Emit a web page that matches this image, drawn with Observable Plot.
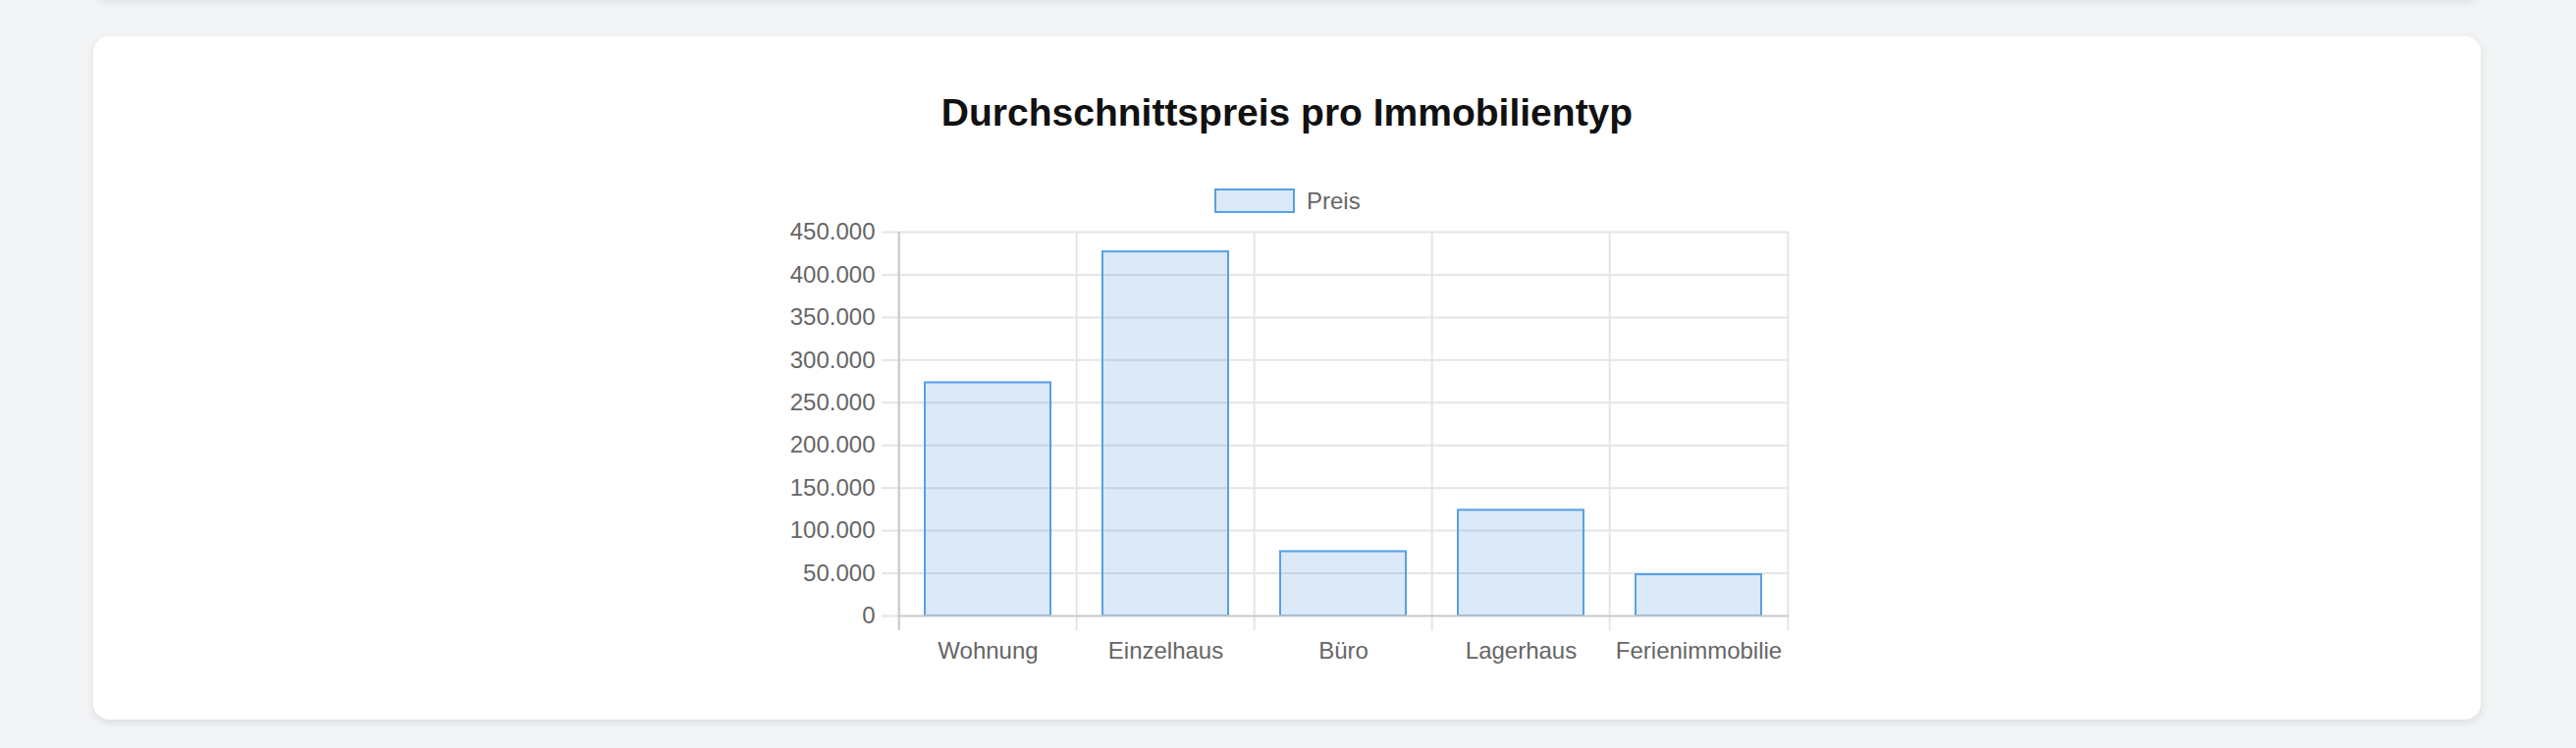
<!DOCTYPE html>
<html>
<head>
<meta charset="utf-8">
<script src="https://cdn.jsdelivr.net/npm/d3@7"></script>
<script src="https://cdn.jsdelivr.net/npm/@observablehq/plot@0.6"></script>
<style>
  html, body { margin: 0; padding: 0; }
  body { width: 2624px; height: 762px; background: #f3f4f6; position: relative; overflow: hidden;
         font-family: "Liberation Sans", Arial, Helvetica, sans-serif; }
  .card { position: absolute; left: 95px; top: 37px; width: 2432px; height: 696px; background: #fff;
          border-radius: 16px; box-shadow: 0 3px 8px rgba(0,0,0,0.10); }
  .cardAbove { position: absolute; left: 95px; top: -200px; width: 2432px; height: 200px; background: #f3f4f6;
          border-radius: 16px; box-shadow: 0 3px 8px rgba(0,0,0,0.08); }
  .title { position: absolute; left: 95px; width: 2432px; top: 95px; text-align: center; font-weight: bold;
           font-size: 39px; line-height: 39px; color: #111; }
  .legend { position: absolute; left: 1237px; top: 192px; height: 25px; display: flex; align-items: center; }
  .legend .box { width: 82px; height: 25px; box-sizing: border-box; border: 2px solid #57a0e5;
                 background: rgba(74,144,226,0.2); }
  .legend .lbl { margin-left: 12px; font-size: 24px; line-height: 24px; color: #666; }
  #chart { position: absolute; left: 797px; top: 224px; }
</style>
</head>
<body>
<div class="cardAbove"></div>
<div class="card"></div>
<div class="title" id="title"></div>
<div class="legend"><div class="box"></div><div class="lbl" id="legendLabel"></div></div>
<div id="chart"></div>
<script>
const chartTitle = "Durchschnittspreis pro Immobilientyp";
const seriesName = "Preis";
const categories = ["Wohnung", "Einzelhaus", "Büro", "Lagerhaus", "Ferienimmobilie"];
const prices = [274500, 428000, 76500, 125000, 49500];
const yTicks = [0, 50000, 100000, 150000, 200000, 250000, 300000, 350000, 400000, 450000];

document.getElementById("title").textContent = chartTitle;
document.getElementById("legendLabel").textContent = seriesName;

const data = categories.map((c, i) => ({category: c, price: prices[i]}));
const de = d3.formatLocale({decimal: ",", thousands: ".", grouping: [3], currency: ["", " €"]});
const fmt = de.format(",");

const width = 1028, height = 470;
const mL = 117, mR = 3, mT = 12, mB = 67;
const step = (width - mL - mR) / categories.length;
const yMax = yTicks[yTicks.length - 1];
const tickExt = -yMax * 15 / (height - mT - mB); // grid lines reach 15px below the zero line
const gridColor = "#e5e5e5";
const axisColor = "#c9c9c9";
const blue = "#4a90e2";
const blueLine = "#57a0e5";

const chart = Plot.plot({
  width, height,
  marginLeft: mL, marginRight: mR, marginTop: mT, marginBottom: mB,
  style: {fontFamily: '"Liberation Sans", Arial, Helvetica, sans-serif', fontSize: "24px", color: "#666", background: "transparent", overflow: "visible"},
  x: {domain: categories, paddingInner: 0.28, paddingOuter: 0.14, label: null},
  y: {domain: [0, yMax], ticks: yTicks, label: null},
  marks: [
    Plot.ruleY(yTicks.filter(d => d !== 0), {stroke: gridColor, strokeWidth: 2}),
    Plot.ruleX(categories, {x: d => d, dx: -step / 2, y1: tickExt, y2: yMax, stroke: gridColor, strokeWidth: 2}),
    Plot.ruleX(categories.slice(-1), {x: d => d, dx: step / 2, y1: tickExt, y2: yMax, stroke: gridColor, strokeWidth: 2}),
    Plot.barY(data, {x: "category", y: "price", fill: blue, fillOpacity: 0.2}),
    Plot.barY(data, {x: "category", y: "price", fill: "none", stroke: blueLine, strokeWidth: 2, insetTop: 1, insetLeft: 1, insetRight: 1}),
    Plot.ruleY([0], {stroke: axisColor, strokeWidth: 2}),
    Plot.ruleX(categories.slice(0, 1), {x: d => d, dx: -step / 2, y1: tickExt, y2: yMax, stroke: axisColor, strokeWidth: 2}),
    Plot.axisY({ticks: yTicks, tickSize: 16, tickPadding: 7, stroke: gridColor, strokeWidth: 2, fill: "#666", fontSize: 24, tickFormat: fmt, label: null}),
    Plot.axisX({tickSize: 0, tickPadding: 26, fill: "#666", fontSize: 24, label: null})
  ]
});
document.getElementById("chart").appendChild(chart);
</script>
</body>
</html>
